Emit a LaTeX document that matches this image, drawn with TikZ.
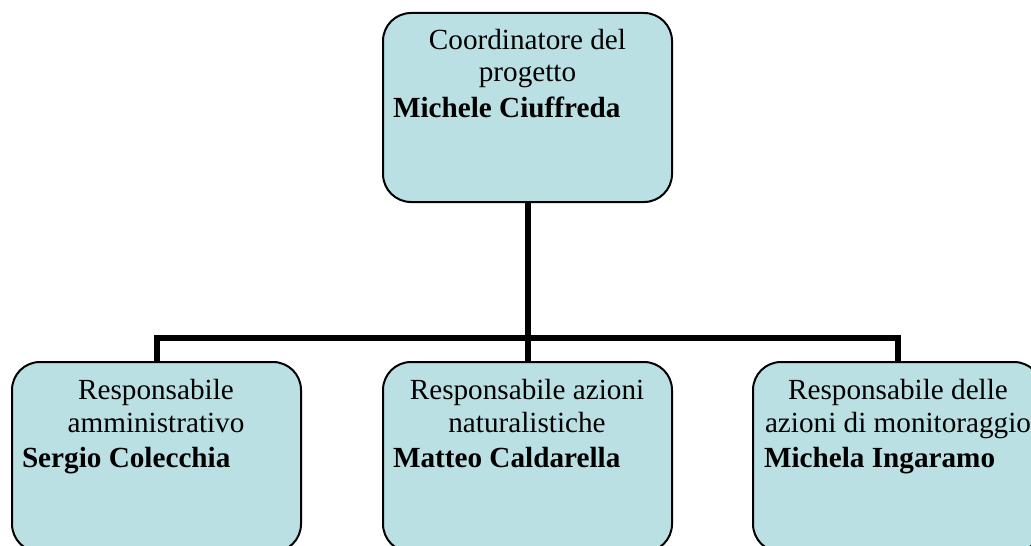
\documentclass[tikz,border=0pt]{standalone}
\usepackage{fontspec}
\setmainfont{Liberation Serif}
\definecolor{boxfill}{HTML}{BBE0E3}
\tikzset{
  orgbox/.style={draw=black, line width=1pt, fill=boxfill, rounded corners=14pt,
    minimum width=144.5pt, minimum height=94.5pt, inner sep=0pt, outer sep=0pt, anchor=north west},
  conn/.style={draw=black, line width=3pt, line join=miter},
  txt/.style={inner sep=0pt, outer sep=0pt, font=\fontsize{14.6}{17}\selectfont},
  boldtxt/.style={txt, font=\fontsize{14.6}{17}\selectfont\bfseries, anchor=base west},
  ctxt/.style={txt, anchor=base}
}
\begin{document}
\begin{tikzpicture}[x=0.5pt, y=-0.5pt]
\useasboundingbox (0,0) rectangle (1031,545);
\clip (0,0) rectangle (1031,545);
% boxes
\node[orgbox] (top) at (383,13) {};
\node[orgbox, minimum height=95pt] (b1) at (12,362) {};
\node[orgbox, minimum height=95pt] (b2) at (383,362) {};
\node[orgbox, minimum height=95pt] (b3) at (753,362) {};
% connectors
\coordinate (bus) at (527.5,338);
\draw[conn] (top.south) -- (bus);
\draw[conn] (b1.north) |- (bus) -| (b3.north);
\draw[conn] (b2.north) -- (bus);
% texts
\node[ctxt] (t0a) at (527.5,50) {Coordinatore del};
\node[ctxt] (t0b) at (527.5,82) {progetto};
\node[boldtxt] (t0c) at (393,118) {Michele Ciuffreda};
\node[ctxt] (t1a) at (156,399) {Responsabile};
\node[ctxt] (t1b) at (156,432) {amministrativo};
\node[boldtxt] (t1c) at (22,467) {Sergio Colecchia};
\node[ctxt] (t2a) at (527,399) {Responsabile azioni};
\node[ctxt] (t2b) at (527,432) {naturalistiche};
\node[boldtxt] (t2c) at (393,467) {Matteo Caldarella};
\node[ctxt] (t3a) at (898,399) {Responsabile delle};
\node[ctxt] (t3b) at (898,432) {azioni di monitoraggio};
\node[boldtxt] (t3c) at (764,467) {Michela Ingaramo};
\end{tikzpicture}
\end{document}
